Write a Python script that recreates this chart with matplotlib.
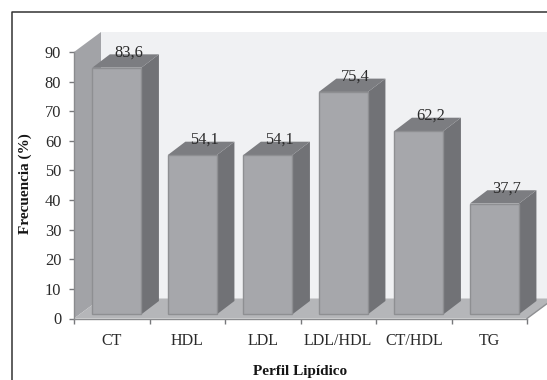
import matplotlib
matplotlib.use("Agg")
import matplotlib.pyplot as plt
from matplotlib.patches import Polygon
from matplotlib.lines import Line2D

categories = ["CT", "HDL", "LDL", "LDL/HDL", "CT/HDL", "TG"]
values = [83.6, 54.1, 54.1, 75.4, 62.2, 37.7]
value_labels = ["83,6", "54,1", "54,1", "75,4", "62,2", "37,7"]
yticks = list(range(0, 100, 10))

plt.rcParams["font.family"] = ["Liberation Serif", "DejaVu Serif"]
W, H = 547, 380
fig = plt.figure(figsize=(W / 100, H / 100), dpi=100, facecolor="white")
L, R, T, B = 74, 527, 52, 318.5
ax = fig.add_axes([L / W, (H - B) / H, (R - L) / W, (B - T) / H])
ax.set_xlim(0, 6)
ax.set_ylim(0, 90)
ax.patch.set_alpha(0)

ux = 6 / (R - L)      # data units per pixel, x
uy = 90 / (B - T)     # data units per pixel, y
wall_dx, wall_dy = 27 * ux, 20 * uy
bar_dx, bar_dy = 17.5 * ux, 13.3 * uy
lift = 4.2 * uy


def poly(pts, fc, ec="none", lw=0, z=1):
    ax.add_patch(Polygon(pts, closed=True, facecolor=fc, edgecolor=ec,
                         linewidth=lw, zorder=z, clip_on=False))


# back wall, side wall, floor
top = 90 + wall_dy
far = 6 + 30 * ux
poly([(wall_dx, wall_dy), (far, wall_dy), (far, top), (wall_dx, top)], "#F0F1F3")
poly([(0, 0), (wall_dx, wall_dy), (wall_dx, top), (0, 90)], "#A2A3A7")
poly([(0, 0), (6, 0), (6 + wall_dx, wall_dy), (wall_dx, wall_dy)], "#B5B6B9")
ax.add_line(Line2D([6, 6 + wall_dx], [0, wall_dy], color="#8E8F92", lw=1, zorder=1.5, clip_on=False))

# 3D bars
x0, x1 = 0.243, 0.893
for i, v in enumerate(values):
    a, b = i + x0, i + x1
    y0, y1 = lift, v + lift - 0.3
    poly([(b, y0), (b + bar_dx, y0 + bar_dy), (b + bar_dx, y1 + bar_dy), (b, y1)], "#717276", z=2)
    poly([(a, y1), (b, y1), (b + bar_dx, y1 + bar_dy), (a + bar_dx, y1 + bar_dy)], "#7C7D81", z=2)
    poly([(a, y0), (b, y0), (b, y1), (a, y1)], "#A6A7AB", ec="#8E8F92", lw=1.0, z=3)
    ax.annotate(value_labels[i], xy=((a + b) / 2, y1), xytext=(8.5, 7.9),
                textcoords="offset points", ha="center", va="baseline",
                fontsize=11.8, color="#2A2A2A", zorder=5)

# axes, ticks
for s in ("top", "right"):
    ax.spines[s].set_visible(False)
for s in ("left", "bottom"):
    ax.spines[s].set_color("#8A8B8E")
    ax.spines[s].set_linewidth(1)
ax.set_yticks(yticks)
ax.set_xticks(range(7))
ax.set_xticks([i + 0.5 for i in range(6)], minor=True)
ax.set_xticklabels([])
ax.set_xticklabels(categories, minor=True)
ax.tick_params(axis="x", which="major", length=3.6, width=1, color="#77787B")
ax.tick_params(axis="x", which="minor", length=0, pad=10.5, labelsize=11.5, labelcolor="#2A2A2A")
ax.tick_params(axis="y", length=3.6, width=1, color="#77787B", pad=5.5, labelsize=11.8, labelcolor="#2A2A2A")

# titles
fig.text(300.5 / W, (H - 375) / H, "Perfil Lipídico", ha="center", va="baseline",
         fontsize=11, fontweight="bold", color="#151515")
fig.text(25 / W, (H - 184) / H, "Frecuencia (%)", ha="center", va="center", rotation=90,
         fontsize=11, fontweight="bold", color="#151515")

# outer frame (top and left)
fig.add_artist(Line2D([11.5 / W, 11.5 / W, 1], [0, (H - 11.5) / H, (H - 11.5) / H],
                      color="#333333", lw=1.1, transform=fig.transFigure))

fig.savefig("out.png", dpi=100, facecolor="white")
